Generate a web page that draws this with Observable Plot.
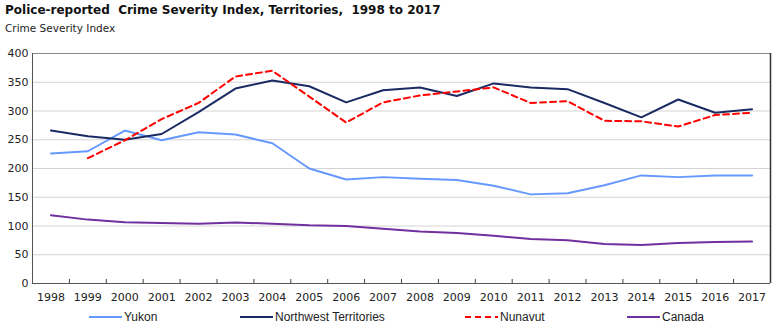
<!DOCTYPE html>
<html>
<head>
<meta charset="utf-8">
<script src="https://cdn.jsdelivr.net/npm/d3@7"></script>
<script src="https://cdn.jsdelivr.net/npm/@observablehq/plot@0.6"></script>
<style>
  html, body { margin: 0; padding: 0; background: #fff; }
  body { width: 780px; height: 327px; position: relative; overflow: hidden; font-family: "DejaVu Sans", Verdana, sans-serif; }
  #title { position: absolute; left: 5px; top: 3px; font-size: 12px; font-weight: bold; color: #111; white-space: pre; }
  #subtitle { position: absolute; left: 5px; top: 22px; font-size: 10.5px; color: #222; }
  #chart { position: absolute; left: 0; top: 40px; }
  #legend { position: absolute; left: 0; top: 309px; width: 780px; height: 16px; font-family: "Liberation Sans Narrow", "Arial Narrow", sans-serif; font-size: 12px; color: #222; }
  .item { position: absolute; top: 0; display: flex; align-items: center; height: 16px; }
  .item svg { margin-right: 2px; }
</style>
</head>
<body>
<div id="title">Police-reported  Crime Severity Index, Territories,  1998 to 2017</div>
<div id="subtitle">Crime Severity Index</div>
<div id="chart"></div>
<div id="legend"></div>
<script>
const years = [1998,1999,2000,2001,2002,2003,2004,2005,2006,2007,2008,2009,2010,2011,2012,2013,2014,2015,2016,2017];
const yukon   = [226,230,266,249,263,259,244,200,181,185,182,180,170,155,157,171,188,185,188,188];
const nwt     = [266,256,250,260,298,339,353,343,315,336,341,326,348,341,338,314,289,320,297,303];
const nunavut = [null,218,249,286,314,360,370,325,280,315,327,334,341,314,317,283,282,273,293,297];
const canada  = [118.8,111.1,106.7,105.3,104.1,106.1,104.1,101.3,100.0,95.3,90.6,87.8,82.9,77.6,75.4,68.8,66.9,70.4,72.0,72.9];
const yTicks = [0,50,100,150,200,250,300,350,400];

const seriesNames = ["Yukon", "Northwest Territories", "Nunavut", "Canada"];
const seriesValues = [yukon, nwt, nunavut, canada];
const seriesColors = ["#6699ff", "#1a2b63", "#ff0000", "#7030a0"];
const seriesDash = [null, null, "6,4", null];

const rows = (vals) => years.map((y, i) => ({year: y, value: vals[i]}));
const half = years.slice(0, -1).map(y => y + 0.5);

const lines = seriesValues.map((vals, i) => Plot.line(rows(vals), {
  x: "year", y: "value", stroke: seriesColors[i], strokeWidth: 2,
  strokeDasharray: seriesDash[i] || undefined, defined: d => d.value != null
}));

const chart = Plot.plot({
  width: 780, height: 265,
  marginLeft: 32, marginRight: 10, marginTop: 13, marginBottom: 22,
  style: {fontFamily: "'DejaVu Sans', Verdana, sans-serif", fontSize: "11px", color: "#222", background: "#fff"},
  x: {type: "linear", domain: [1997.5, 2017.5]},
  y: {domain: [0, 400]},
  marks: [
    Plot.gridY(yTicks, {stroke: "#d4d4d4", strokeOpacity: 1}),
    Plot.axisY(yTicks, {tickSize: 0, tickPadding: 4, label: null, fontSize: 11}),
    Plot.axisX(years, {tickSize: 0, tickPadding: 10, tickFormat: d => String(d), label: null, fontSize: 11}),
    Plot.ruleX(half, {y1: 0, y2: 7, stroke: "#444"}),
    ...lines,
    Plot.ruleY([400], {stroke: "#888"}),
    Plot.ruleX([1997.5], {stroke: "#555"}),
    Plot.ruleX([2017.5], {stroke: "#333", strokeWidth: 1.5}),
    Plot.ruleY([0], {stroke: "#555"})
  ]
});
document.getElementById("chart").appendChild(chart);

const legendX = [89, 240, 465, 627];
const legend = document.getElementById("legend");
seriesNames.forEach((name, i) => {
  const item = document.createElement("div");
  item.className = "item";
  item.style.left = legendX[i] + "px";
  const dash = seriesDash[i] ? ` stroke-dasharray="6,4"` : "";
  item.innerHTML = `<svg width="33" height="4"><line x1="0" y1="2" x2="33" y2="2" stroke="${seriesColors[i]}" stroke-width="2"${dash}/></svg><span>${name}</span>`;
  legend.appendChild(item);
});
</script>
</body>
</html>
